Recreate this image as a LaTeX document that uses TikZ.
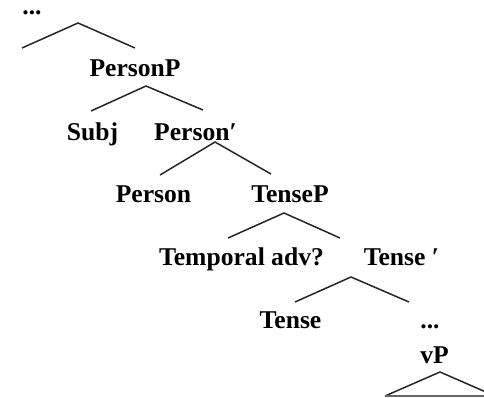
\documentclass[tikz,border=0pt]{standalone}
\usepackage{fontspec}
\setmainfont{Liberation Serif}
\begin{document}
\begin{tikzpicture}[x=1pt,y=-1pt,
  lbl/.style={anchor=base,inner sep=0pt,font=\fontsize{25.6}{30}\selectfont\bfseries},
  branch/.style={draw=black!85,line width=1.5pt}]
\useasboundingbox (0,0) rectangle (484,398);
\clip (0,0) rectangle (484,398);
% labels
\node[lbl,text height=6pt] (dotsA) at (32,15) {...};
\node[lbl] (personp) at (135,77) {PersonP};
\node[lbl] (subj) at (92.5,141) {Subj};
\node[lbl] (personbar) at (195.5,141) {Person′};
\node[lbl] (person) at (153.5,202) {Person};
\node[lbl] (tensep) at (290,202) {TenseP};
\node[lbl] (tempadv) at (241.5,265) {Temporal adv?};
\node[lbl] (tensebar) at (401.5,265) {Tense ′};
\node[lbl] (tense) at (290.5,328) {Tense};
\node[lbl] (dotsB) at (430,328) {...};
\node[lbl] (vp) at (434.5,363) {vP};
% branch points
\coordinate (a1) at (78,23);  \coordinate (l1) at (22,48);  \coordinate (r1) at (135,48);
\coordinate (a2) at (146,86); \coordinate (l2) at (91,111); \coordinate (r2) at (203,110);
\coordinate (a3) at (215,142);\coordinate (l3) at (160,175);\coordinate (r3) at (271,174);
\coordinate (a4) at (284,213);\coordinate (l4) at (228,238);\coordinate (r4) at (340,238);
\coordinate (a5) at (351,277);\coordinate (l5) at (295,302);\coordinate (r5) at (409,302);
\coordinate (a6) at (440,372);\coordinate (l6) at (385,396);\coordinate (r6) at (495,396);
\draw[branch] (l1) -- (a1) -- (r1);
\draw[branch] (l2) -- (a2) -- (r2);
\draw[branch] (l3) -- (a3) -- (r3);
\draw[branch] (l4) -- (a4) -- (r4);
\draw[branch] (l5) -- (a5) -- (r5);
\draw[branch] (l6) -- (a6) -- (r6);
\draw[draw=black!60,line width=2pt] (l6) -- (r6);
\end{tikzpicture}
\end{document}
